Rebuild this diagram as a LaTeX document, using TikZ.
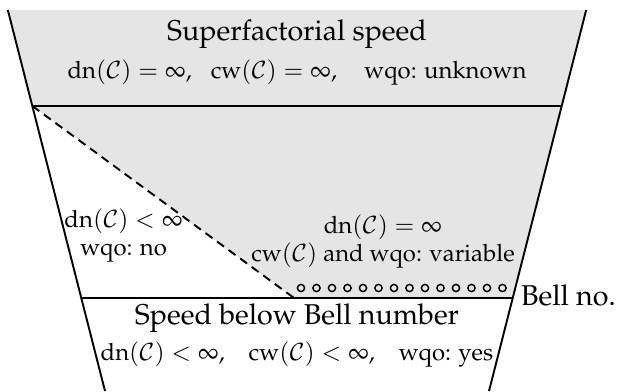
\documentclass[tikz,border=0pt]{standalone}
\usepackage[T1]{fontenc}
\usepackage{mathpazo}
\usepackage{amsmath}
\usepackage{amssymb}
\usepackage{tikz}
\usepackage{xcolor}

\begin{document}
\begin{tikzpicture}[scale=0.589]
\useasboundingbox (0,0) rectangle (15.45,9.775);
\coordinate (tl) at (0.196,9.525);
\coordinate (tr) at (14.654,9.525);
\coordinate (ml) at (0.808,7.125);
\coordinate (mr) at (14.042,7.125);
\coordinate (bl) at (2.032,2.325);
\coordinate (br) at (12.818,2.325);
\coordinate (el) at (2.625,0);
\coordinate (er) at (12.225,0);
\coordinate (split) at (7.35,2.325);
\fill[black!10] (tl)--(tr)--(mr)--(ml)--cycle;
\fill[black!10] (ml)--(mr)--(br)--(split)--cycle;
\draw[thick] (tl)--(el);
\draw[thick] (tr)--(er);
\draw[thick] (ml)--(mr);
\draw[thick] (bl)--(br);
\draw[thick,dash pattern=on 3.6pt off 2.4pt] (ml)--(split);
\foreach \i in {0,...,13}
  \draw[semithick] ({7.525+0.3875*\i},2.575) circle (0.09);
\node[anchor=base,font=\large] (super) at (7.425,8.775) {Superfactorial speed};
\node[anchor=base] (superprops) at (7.425,7.825) {$\operatorname{dn}(\mathcal{C})=\infty$,\hspace{0.8em}$\operatorname{cw}(\mathcal{C})=\infty$,\hspace{1.15em}wqo: unknown};
\node[align=center] (finite) at (3.09,3.89) {$\operatorname{dn}(\mathcal{C})<\infty$\\wqo: no};
\node[align=center] (infinite) at (9.575,3.74) {$\operatorname{dn}(\mathcal{C})=\infty$\\$\operatorname{cw}(\mathcal{C})$ and wqo: variable};
\node[anchor=base,font=\large] (below) at (7.425,1.675) {Speed below Bell number};
\node[anchor=base] (belowprops) at (7.425,0.775) {$\operatorname{dn}(\mathcal{C})<\infty$,\quad $\operatorname{cw}(\mathcal{C})<\infty$,\quad wqo: yes};
\node[anchor=base west,font=\large] (bellno) at (12.818,2.15) {Bell no.};
\end{tikzpicture}
\end{document}
